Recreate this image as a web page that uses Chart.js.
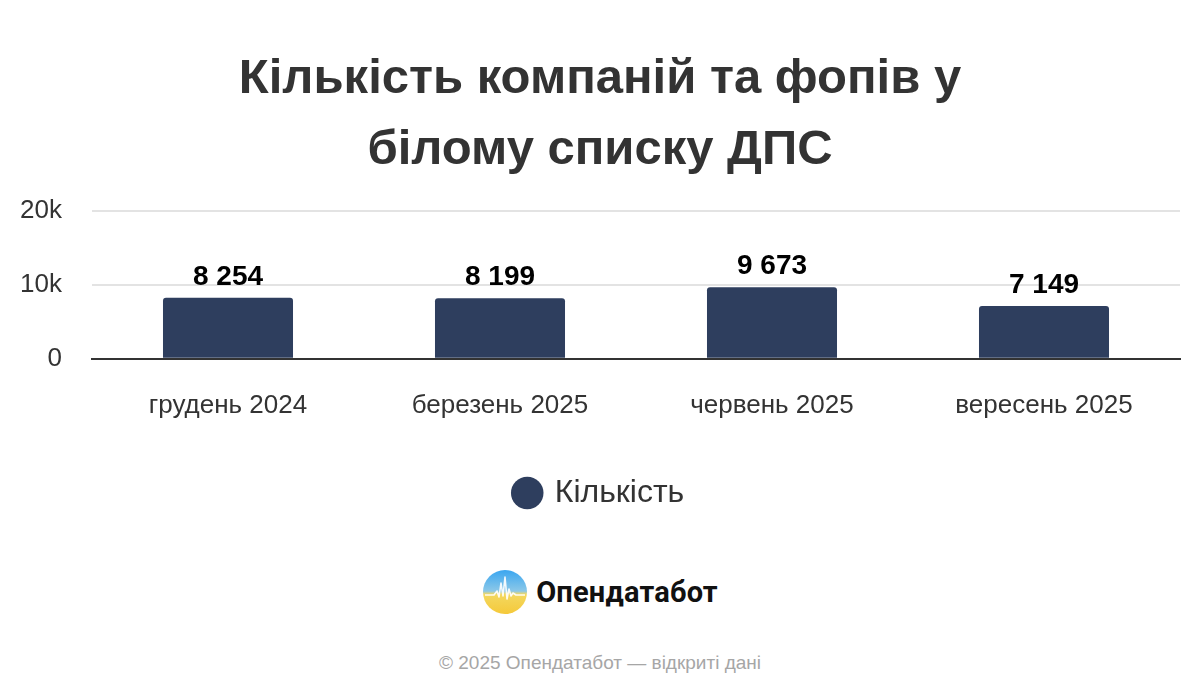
<!DOCTYPE html>
<html>
<head>
<meta charset="utf-8">
<script src="https://cdn.jsdelivr.net/npm/chart.js@4"></script>
<style>
  html, body { margin:0; padding:0; background:#fff; }
  #wrap { position:relative; width:1200px; height:700px; overflow:hidden; font-family:"Liberation Sans", Arial, sans-serif; }
  #chartBox { position:absolute; left:0; top:0; width:1200px; height:540px; }
  #logo { position:absolute; left:0; top:568px; width:1200px; height:48px; display:flex; justify-content:center; align-items:center; }
  #logo span { font-family:Roboto, "Noto Sans", sans-serif; font-weight:700; font-size:29px; color:#111; margin-left:8px; letter-spacing:0.2px; }
  #footer { position:absolute; left:0; top:652px; width:1200px; text-align:center; font-size:19px; color:#a6a6a6; }
</style>
</head>
<body>
<div id="wrap">
  <div id="chartBox"><canvas id="c" width="1200" height="540"></canvas></div>
  <div id="logo">
    <svg width="46" height="46" viewBox="0 0 46 46">
      <defs>
        <linearGradient id="g" x1="0" y1="0" x2="0" y2="1">
          <stop offset="0" stop-color="#3aa6f0"/>
          <stop offset="0.48" stop-color="#8cc8e8"/>
          <stop offset="0.55" stop-color="#f3d860"/>
          <stop offset="1" stop-color="#f5c93a"/>
        </linearGradient>
      </defs>
      <circle cx="23" cy="23" r="22" fill="url(#g)"/>
      <polyline points="3,26 12,26 15,22 17,28 19,14 21,27 23,8 25,30 27,20 29,27 31,24 34,26 43,26" fill="none" stroke="#ffffff" stroke-width="1.6" stroke-linejoin="round" opacity="0.9"/>
    </svg>
    <span>Опендатабот</span>
  </div>
  <div id="footer">© 2025 Опендатабот — відкриті дані</div>
</div>
<script>
const categories = ["грудень 2024", "березень 2025", "червень 2025", "вересень 2025"];
const counts = [8254, 8199, 9673, 7149];
const yTicks = [0, 10000, 20000];
const yTickLabels = ["0", "10k", "20k"];
const seriesName = "Кількість";
const titleLines = ["Кількість компаній та фопів у", "білому списку ДПС"];

function fmt(v) {
  return String(v).replace(/\B(?=(\d{3})+(?!\d))/g, " ");
}

const valueLabels = {
  id: "valueLabels",
  afterDatasetsDraw(chart) {
    const ctx = chart.ctx;
    const meta = chart.getDatasetMeta(0);
    ctx.save();
    ctx.font = "bold 28px 'Liberation Sans', Arial, sans-serif";
    ctx.fillStyle = "#000";
    ctx.textAlign = "center";
    ctx.textBaseline = "middle";
    meta.data.forEach((bar, i) => {
      ctx.fillText(fmt(chart.data.datasets[0].data[i]), bar.x, bar.y - 21);
    });
    ctx.restore();
  }
};

new Chart(document.getElementById("c"), {
  type: "bar",
  data: {
    labels: categories,
    datasets: [{
      label: seriesName,
      data: counts,
      backgroundColor: "#2e3e5e",
      borderRadius: { topLeft: 3, topRight: 3 },
      borderSkipped: "bottom",
      categoryPercentage: 0.478,
      barPercentage: 1.0
    }]
  },
  options: {
    responsive: false,
    animation: false,
    layout: { padding: { left: 20, right: 20, top: 0, bottom: 21 } },
    plugins: {
      title: {
        display: true,
        text: titleLines,
        color: "#333",
        font: { family: "'Liberation Sans', Arial, sans-serif", size: 49, weight: "bold", lineHeight: 1.449 },
        padding: { top: 44, bottom: 25 }
      },
      legend: {
        display: true,
        position: "bottom",
        labels: {
          usePointStyle: true,
          pointStyle: "circle",
          boxWidth: 23,
          boxHeight: 23,
          padding: 12,
          color: "#333",
          font: { family: "'Liberation Sans', Arial, sans-serif", size: 32 }
        }
      },
      tooltip: { enabled: false }
    },
    scales: {
      x: {
        grid: { display: false, drawTicks: false },
        border: { display: true, color: "#333", width: 2 },
        ticks: {
          color: "#333",
          padding: 31,
          font: { family: "'Liberation Sans', Arial, sans-serif", size: 26 }
        },
        afterFit(scale) { scale.height += 13; }
      },
      y: {
        min: 0,
        max: 20000,
        afterBuildTicks(axis) { axis.ticks = yTicks.map(v => ({ value: v })); },
        grid: { color: "#e3e3e3", lineWidth: 2, drawTicks: false },
        border: { display: false },
        ticks: {
          color: "#333",
          padding: 30,
          font: { family: "'Liberation Sans', Arial, sans-serif", size: 26 },
          callback: (v) => yTickLabels[yTicks.indexOf(v)]
        },
        afterFit(scale) { scale.width = 72; }
      }
    }
  },
  plugins: [valueLabels]
});
</script>
</body>
</html>
